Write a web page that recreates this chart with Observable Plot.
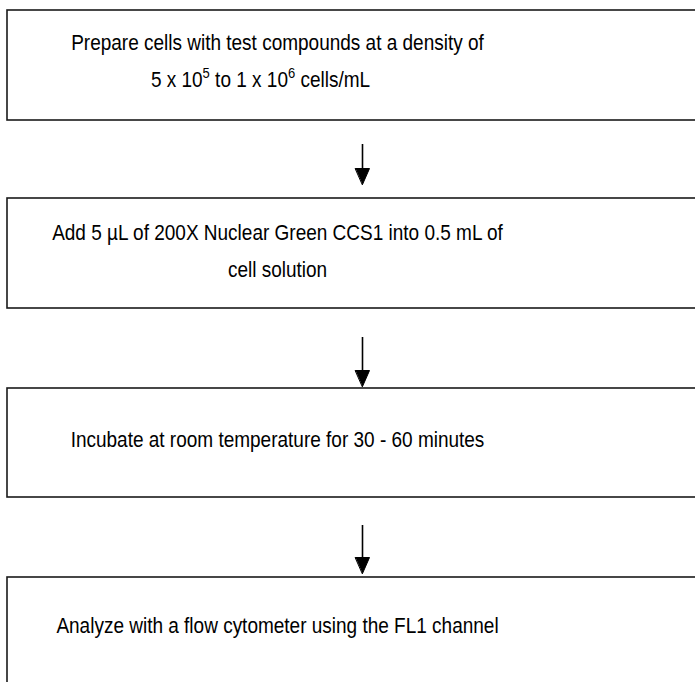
<!DOCTYPE html>
<html>
<head>
<meta charset="utf-8">
<script src="https://cdn.jsdelivr.net/npm/d3@7"></script>
<script src="https://cdn.jsdelivr.net/npm/@observablehq/plot@0.6"></script>
<style>
  html, body { margin: 0; padding: 0; background: #fff; }
  #chart svg { display: block; }
</style>
</head>
<body>
<div id="chart"></div>
<script>
// Step texts (one entry per line of text, with the step it belongs to)
const steps = [1, 2, 3, 4];
const stepLines = [
  ["Prepare cells with test compounds at a density of", "5 x 10\u2075 to 1 x 10\u2076 cells/mL"],
  ["Add 5 \u00b5L of 200X Nuclear Green CCS1 into 0.5 mL of", "cell solution"],
  ["Incubate at room temperature for 30 - 60 minutes"],
  ["Analyze with a flow cytometer using the FL1 channel"]
];

// Layout (pixel space of the page)
const W = 695, H = 682;
const boxTop = [10, 198, 388, 577];
const boxBottom = [120, 308, 497, 720];
const boxLeft = 7, boxRight = 720;
const textCenterX = 277;
const lineShiftX = [[0, -17], [0, 0], [0], [0]];
const firstLineY = [42, 232, 439, 625];
const lineGap = 37;
const arrowX = 362;
const arrowStart = [144, 337, 525];
const arrowTip = [184, 386, 573];
const headW = 14, headH = 16;
const textStretchY = 1.16;

const boxes = steps.map((s, i) => ({step: s, x1: boxLeft, x2: boxRight, y1: boxTop[i], y2: boxBottom[i]}));
const texts = steps.flatMap((s, i) => stepLines[i].map((t, j) => ({step: s, text: t, x: textCenterX + lineShiftX[i][j], y: firstLineY[i] + j * lineGap})));
const shafts = arrowStart.map((y, i) => ({id: i, x: arrowX, y1: y, y2: arrowTip[i] - headH + 2}));
const heads = arrowTip.flatMap((tip, i) => [
  {id: i, x: arrowX - headW / 2, y: tip - headH},
  {id: i, x: arrowX + headW / 2, y: tip - headH},
  {id: i, x: arrowX, y: tip}
]);

const chart = Plot.plot({
  width: W,
  height: H,
  margin: 0,
  style: {overflow: "hidden", background: "#fff"},
  x: {domain: [0, W], range: [0, W], axis: null},
  y: {domain: [0, H], range: [0, H], axis: null},
  marks: [
    Plot.rect(boxes, {x1: "x1", x2: "x2", y1: "y1", y2: "y2", fill: "none", stroke: "#1a1a1a", strokeWidth: 1.6, clip: true}),
    Plot.ruleX(shafts, {x: "x", y1: "y1", y2: "y2", stroke: "#000", strokeWidth: 1.6}),
    Plot.line(heads, {x: "x", y: "y", z: "id", fill: "#000", stroke: "#000", strokeWidth: 1, curve: "linear-closed"}),
    Plot.text(texts, {x: "x", y: "y", text: "text", fontSize: 19, fill: "#000",
      fontFamily: "'Liberation Sans', Arial, sans-serif", textAnchor: "middle", lineAnchor: "middle"})
  ]
});

// Slightly stretch the glyphs vertically, like the reference rendering,
// and render superscript digits as raised, smaller digits.
const supMap = {"\u2070": "0", "\u00b9": "1", "\u00b2": "2", "\u00b3": "3", "\u2074": "4", "\u2075": "5", "\u2076": "6", "\u2077": "7", "\u2078": "8", "\u2079": "9"};
const SVGNS = "http://www.w3.org/2000/svg";
const sx = chart.scale("x"), sy = chart.scale("y");
const textEls = chart.querySelectorAll('g[aria-label="text"] text');
if (textEls.length === texts.length) {
  textEls.forEach((t, i) => {
    const px = sx.apply(texts[i].x), py = sy.apply(texts[i].y);
    t.setAttribute("transform", `translate(${px},${py}) scale(1,${textStretchY})`);
    const s = texts[i].text;
    if ([...s].some(c => supMap[c])) {
      t.textContent = "";
      let buf = "", raised = false;
      const flush = (sup) => {
        if (!buf) return;
        const ts = document.createElementNS(SVGNS, "tspan");
        ts.textContent = buf;
        if (sup) { ts.setAttribute("font-size", "13"); ts.setAttribute("dy", "-7"); raised = true; }
        else if (raised) { ts.setAttribute("dy", "7"); raised = false; }
        t.appendChild(ts);
        buf = "";
      };
      let mode = false;
      for (const c of s) {
        const isSup = !!supMap[c];
        if (isSup !== mode) { flush(mode); mode = isSup; }
        buf += isSup ? supMap[c] : c;
      }
      flush(mode);
    }
  });
}

document.getElementById("chart").appendChild(chart);
</script>
</body>
</html>
